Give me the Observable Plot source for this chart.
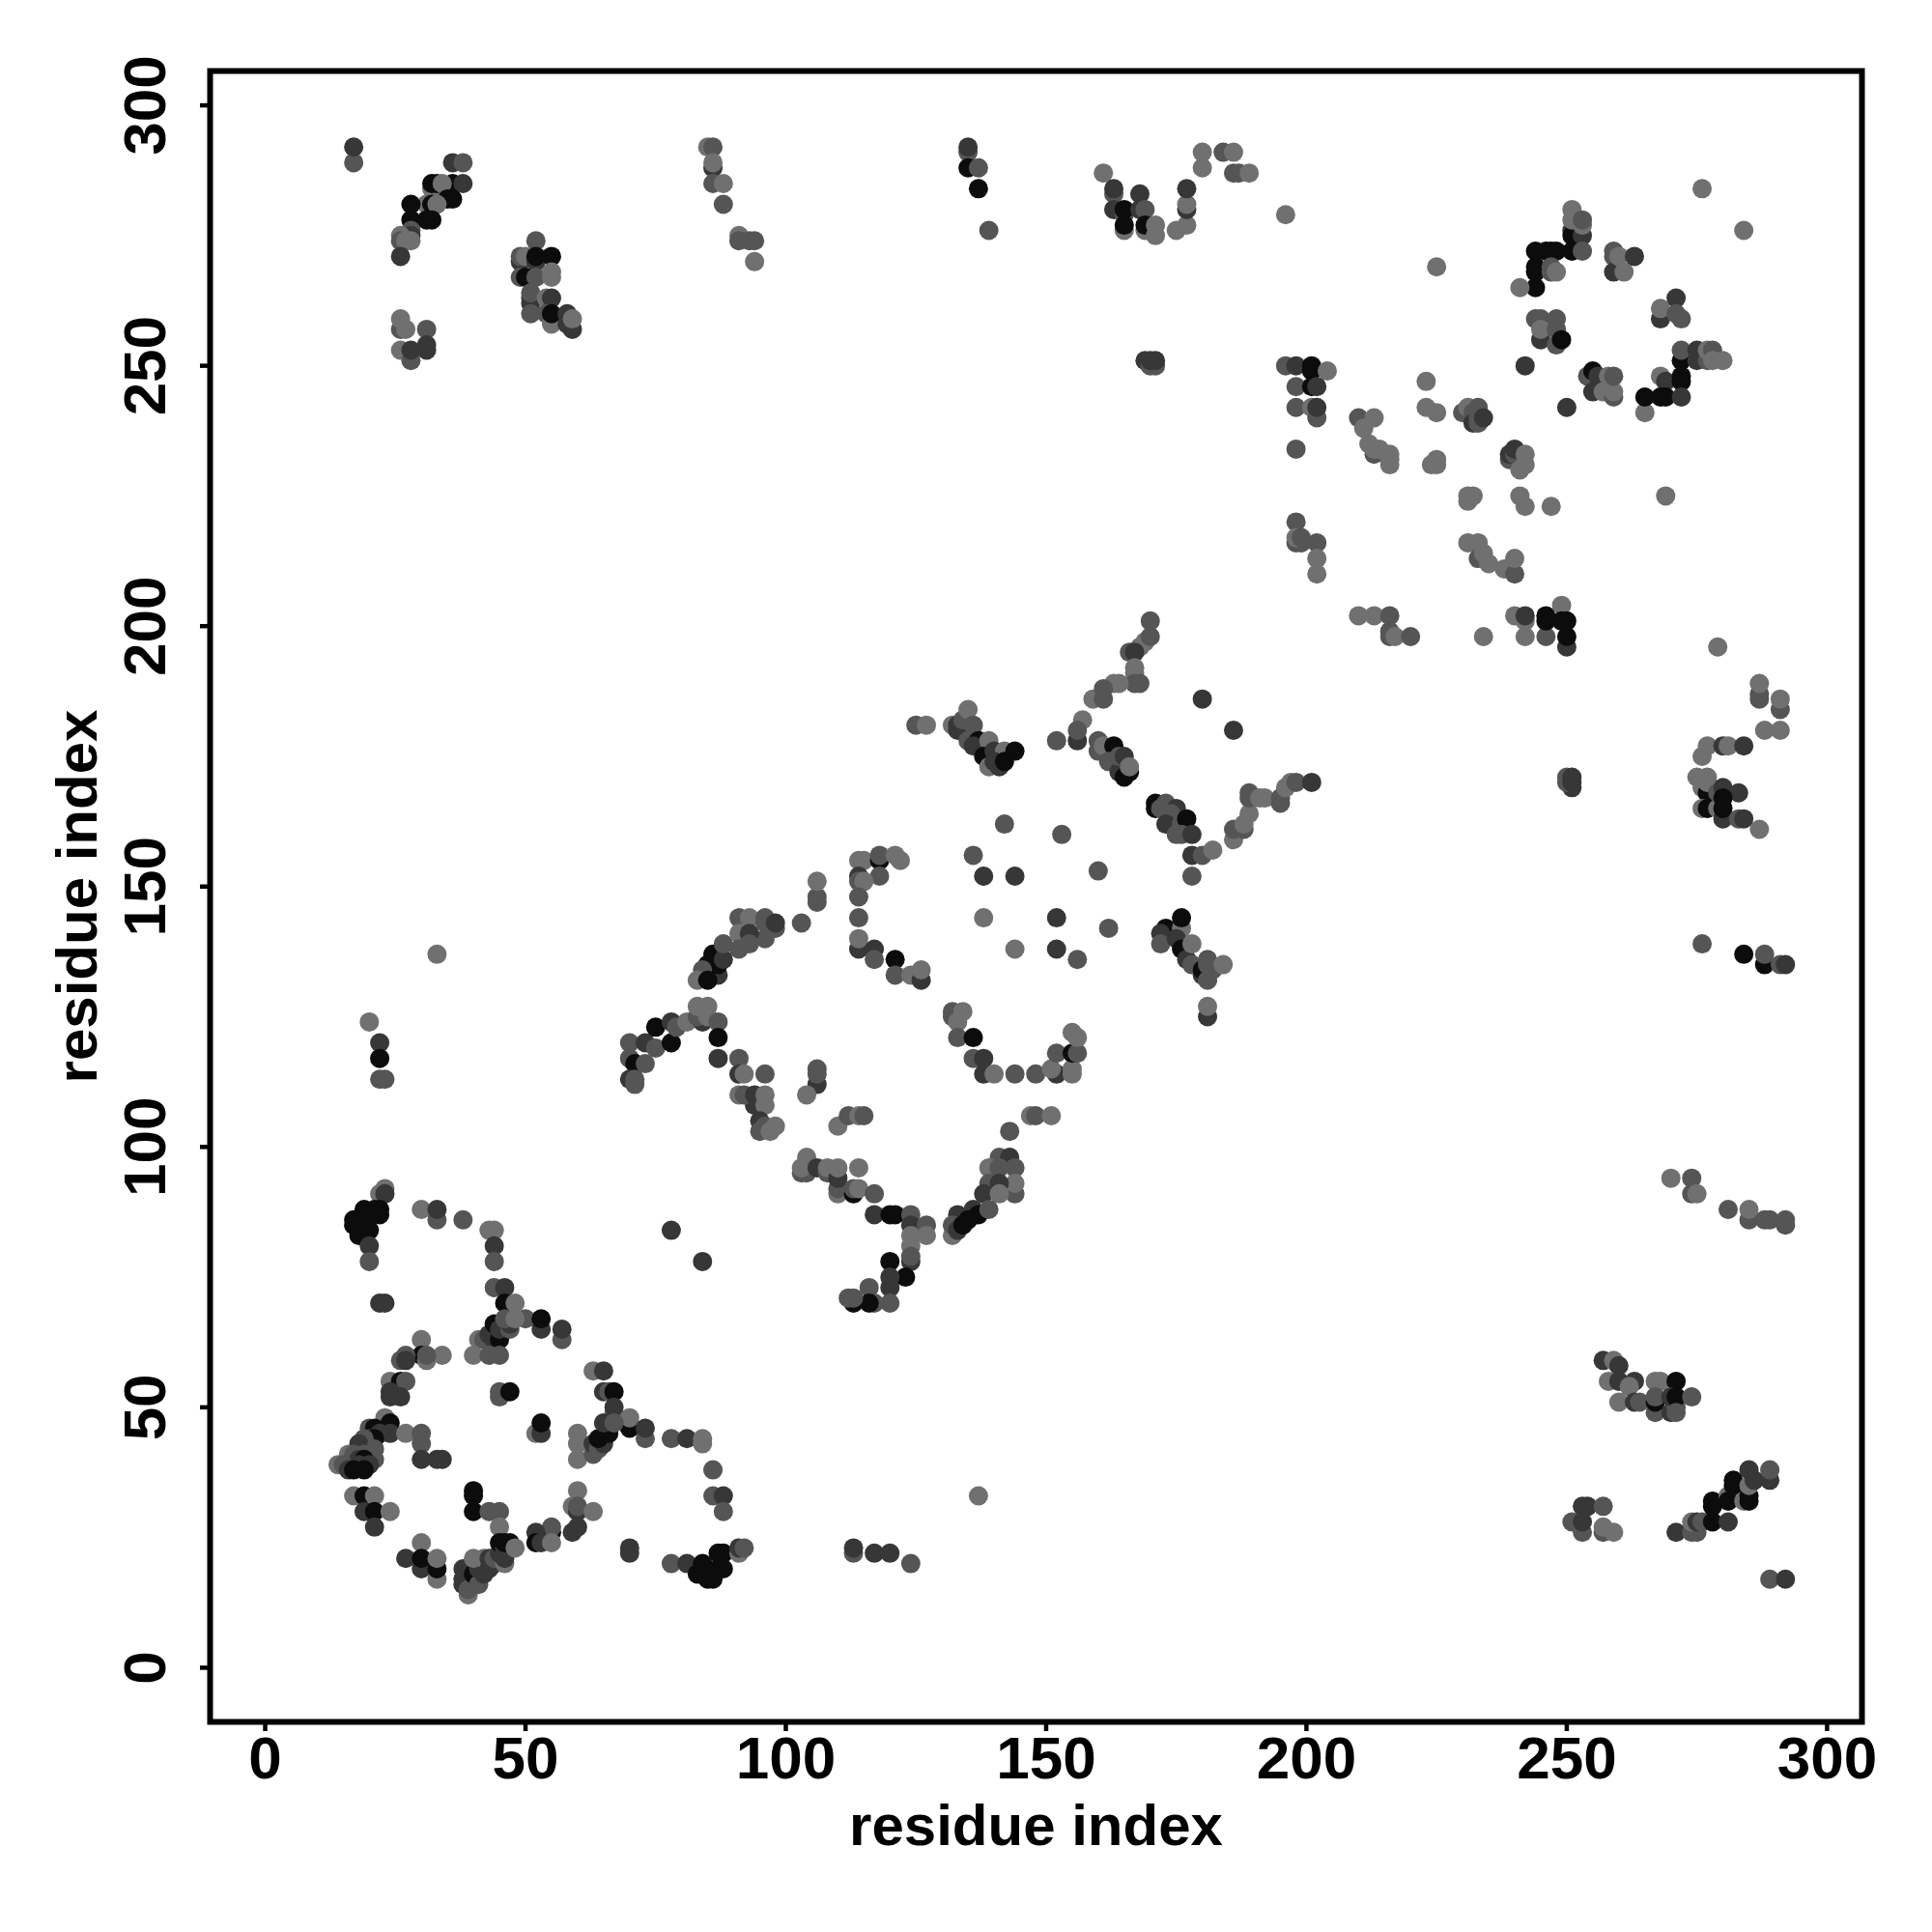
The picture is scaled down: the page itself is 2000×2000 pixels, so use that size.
<!DOCTYPE html>
<html><head><meta charset="utf-8">
<script src="https://cdn.jsdelivr.net/npm/d3@7"></script>
<script src="https://cdn.jsdelivr.net/npm/@observablehq/plot@0.6"></script>
<style>html,body{margin:0;padding:0;background:#fff}</style>
</head><body><div id="chart"></div>
<script>
// contact score levels read from the point shades
const L=0.08, M=0.3, D=0.55, K=0.9;
const tickValues=[0,50,100,150,200,250,300];
const axisTitle="residue index";

const contactsDomainA=[
[22,91,L],[23,92,L],[23,91,D],[19,88,K],[22,88,K],[22,87,K],[17,86,K],[17,85,K],[19,86,K],[19,84,K],[20,84,K],[18,83,K],[21,88,K],[20,87,K],[20,81,D],[20,78,M],
[30,88,L],[33,86,M],[33,88,D],[38,86,M],[43,84,L],[44,84,L],[44,81,D],[44,78,M],[44,73,M],[46,73,D],[46,70,K],[48,70,L],[50,67,M],[53,65,D],[53,67,K],[57,63,M],[57,65,D],
[41,63,L],[42,63,M],[43,64,D],[44,63,D],[45,63,K],[44,66,K],[45,65,D],[47,65,M],[47,66,D],[46,67,M],[48,67,L],
[40,60,L],[43,60,M],[45,60,M],[22,70,D],[23,70,D],[30,63,L],[34,60,L],[30,60,K],[31,59,L],[31,60,M],[26,59,M],[27,60,M],[27,59,D],
[24,55,L],[26,55,K],[27,55,M],[24,53,D],[24,52,D],[26,52,D],[45,52,M],[45,53,M],[47,53,K],[52,45,L],[53,45,D],[53,47,K],
[63,57,L],[65,57,D],[65,53,D],[66,53,M],[67,53,K],[67,49,L],[67,50,D],[70,46,K],[70,48,L],[73,44,M],[73,46,D],[78,44,M],[81,44,D],[84,43,L],[84,44,L],[86,38,M],[86,33,M],[88,33,D],[88,30,M],
[60,45,L],[60,43,L],[60,40,L],[63,41,M],[63,43,D],[64,42,M],[65,43,D],[64,44,K],[66,45,K],[65,47,D],[67,47,M],
[23,48,L],[24,47,K],[24,45,D],[27,45,L],[30,45,M],[30,43,M],[30,40,D],[33,40,D],[34,40,D],
[20,46,M],[21,46,K],[22,45,D],[20,44,D],[21,44,K],[19,44,M],[18,43,D],[21,42,M],[18,42,D],[21,40,M],[16,41,L],[17,41,M],[19,41,M],[18,40,D],[19,40,K],[14,39,L],[15,39,M],[18,39,D],[20,39,D],[16,38,D],[17,38,K],[19,38,K],
[17,33,L],[19,33,K],[21,33,L],[19,30,D],[21,30,K],[24,30,L],[21,27,D],
[40,34,K],[40,33,K],[40,30,K],[43,30,M],[45,30,M],[45,27,L],[60,34,L],[59,31,L],[60,30,D],[60,31,M],[63,30,L],[60,27,D],[59,26,D],
[55,26,K],[55,27,M],[52,26,D],[52,24,K],[53,24,D],[55,24,L],[70,22,D],[70,23,D],
[78,20,M],[81,20,D],[84,20,K],[87,22,K],[88,22,K],[87,19,K],[88,19,K],[83,18,K],[84,18,K],[86,18,K],[85,17,K],[86,17,K],[91,22,L],[91,23,D],[92,23,M],
[30,24,L],[27,21,D],[30,19,D],[30,21,K],[33,17,L],[33,19,K],[33,21,L],
[39,14,L],[38,19,D],[38,17,D],[38,16,D],[39,15,M],[40,18,K],[41,16,M],[41,19,D],[42,18,D],[40,21,L],[42,21,L],[43,19,D],[44,20,D],[43,21,D],[44,21,M],[46,20,L],[45,22,D],[46,21,D],[45,24,K],[46,23,D],[46,24,K],[47,24,K],[48,23,L]
];

const contactsDomainB=[
[106,147,M],[106,148,M],[106,151,L],[103,143,M],[91,144,M],[93,144,L],[96,143,M],[96,144,M],[97,142,M],[98,142,M],[98,143,D],[96,140,M],[91,141,L],[93,141,D],[93,139,M],[91,138,M],[87,133,D],[85,135,K],[86,137,K],[87,135,K],[88,136,D],[88,139,M],[84,134,M],[83,132,L],[85,132,K],
[114,155,L],[115,155,L],[118,155,K],[118,156,M],[121,156,L],[122,155,L],[118,152,M],[114,152,D],[114,151,M],[115,151,L],[114,148,M],[114,144,M],[114,138,D],[114,140,L],[117,138,D],[117,136,M],[121,136,K],[121,133,M],[124,133,L],[126,132,D],[126,134,L],
[132,125,M],[132,126,M],[134,126,L],[133,124,L],[133,121,M],[136,121,K],[136,117,M],[138,117,D],[138,114,D],[140,114,L],[144,114,M],[148,114,M],[152,114,D],[151,115,L],[155,114,L],[155,115,L],[152,118,M],[155,118,K],[156,118,M],[155,122,L],[156,121,L],
[70,120,M],[73,120,D],[75,119,M],[75,123,K],[78,120,K],[78,124,D],[79,123,M],[81,124,L],[84,124,D],[83,125,M],[85,125,L],[83,127,L],[85,127,L],[87,124,M],[87,121,K],[87,117,D],
[91,117,M],[70,117,M],[71,116,K],[73,116,M],[70,113,D],[71,113,M],[71,112,M],
[91,114,D],[92,114,L],[96,114,M],[91,110,L],[94,108,D],[92,110,M],[94,110,D],[96,110,L],[96,108,L],[95,105,D],[95,103,M],[96,104,M],[97,103,L],[98,104,L],
[106,112,D],[106,114,M],[106,115,M],[104,110,L],[110,104,L],[112,106,M],[114,106,L],[115,106,M],[147,106,L],[148,106,M],[151,106,L],[143,103,M],
[103,95,M],[104,95,M],[103,96,L],[104,98,L],[106,96,D],[108,95,M],[108,96,L],[110,91,L],[110,92,M],[110,94,D],[110,96,L],[114,96,L],[113,91,K],[113,92,M],[114,92,L],[117,91,M],
[117,87,D],[120,87,K],[121,87,K],[124,87,M],[124,85,D],[127,85,M],[127,83,L],[124,83,L],[124,81,L],[124,78,D],[124,79,M],[120,78,K],[123,75,K],[120,75,D],[120,73,D],[116,73,M],[120,70,M],[117,70,M],[116,70,K],[113,70,K],[112,71,M],[113,71,M],
[78,84,D],[84,78,D],
[141,98,M],[143,98,D],[139,96,L],[141,96,M],[144,96,M],[144,91,M],[144,93,L],[139,93,M],[141,93,D],[138,91,D],[141,91,L],[133,87,D],[136,88,D],[132,83,L],[132,85,M],[133,84,D],[134,85,K],[135,86,K],[137,87,K],[139,88,M]
];

const contactsDomainC=[
[170,201,M],[169,197,L],[168,196,L],[170,198,M],[166,195,M],[167,195,D],[167,191,L],[167,192,L],[167,189,M],[168,189,M],[163,189,L],[164,189,L],[159,186,L],[161,186,M],[161,188,M],[157,182,L],[156,178,D],[156,180,M],[152,178,M],
[180,186,D],[186,180,D],[125,181,M],[127,181,L],
[132,181,L],[133,181,D],[133,180,D],[134,182,M],[135,184,L],[136,181,M],[135,178,M],[137,178,K],[136,177,D],[139,178,L],[138,175,K],[140,176,D],[142,176,L],[139,173,L],[140,174,D],[141,173,D],[142,174,K],[144,176,K],
[160,176,M],[160,178,M],[161,177,L],[163,177,K],[162,174,M],[164,172,D],[165,171,K],[166,172,K],[164,175,M],[165,175,D],[166,173,L],
[171,166,K],[171,165,K],[172,165,M],[173,166,M],[175,165,D],[174,164,M],[173,162,D],[176,162,M],[177,163,K],[176,160,M],[175,160,M],[178,160,D],
[178,156,D],[180,156,M],[182,157,L],[178,152,M],[186,159,L],[186,161,M],[188,161,M],[188,162,L],[189,164,L],[189,167,M],[189,168,M],[191,167,L],[192,167,L],[195,166,M],[195,167,M],[196,169,L],[197,170,L],[198,170,M],[201,170,D],
[142,162,M],[153,160,M],[136,156,M],[138,152,D],[144,152,D],[160,153,M],[138,144,L],[152,144,D],[162,142,M],[144,138,L],[152,138,D],[156,136,M],
[173,142,K],[172,141,D],[172,139,M],[176,142,L],[176,144,K],[175,140,D],[176,138,K],[177,136,D],[178,139,L],[178,135,M],[180,133,D],[180,134,K],[181,132,M],[182,134,M],[181,135,M],[181,136,M],[184,135,L],[181,125,D],[181,127,L]
];

const contactsDomainD=[
[196,279,L],[276,284,L],[284,276,L],[225,269,L],
[251,276,D],[251,275,K],[253,275,D],[251,272,K],[253,272,M],[251,278,L],[251,280,L],[253,277,L],[253,278,M],
[244,272,K],[246,272,K],[247,272,K],[248,272,K],[244,269,K],[244,268,K],[247,268,M],[247,269,M],[248,268,L],[244,265,K],[241,265,L],
[259,271,M],[259,272,M],[259,268,D],[260,271,L],[261,268,L],[263,271,D],
[268,259,D],[268,261,L],[271,263,D],[271,260,M],[272,259,M],
[244,259,M],[245,259,M],[248,259,M],[245,255,D],[245,257,L],[248,254,M],[248,257,M],[249,255,K],
[242,250,D],[250,242,D],
[254,248,M],[255,249,K],[256,248,D],[255,245,D],[257,245,L],[258,248,L],[259,244,M],[259,245,L],[259,248,M],
[272,251,K],[272,253,M],[275,251,D],[275,253,D],[277,251,M],[277,253,L],[278,253,M],[278,251,L],[280,251,L],
[268,248,L],[269,247,D],[272,248,K],[272,247,K],[265,241,L],[265,244,K],[268,244,K],[269,244,K],[272,244,D],
[196,250,M],[198,250,D],[201,249,K],[201,250,K],[204,249,L],[198,246,M],[201,246,K],[202,246,D],[198,242,M],[201,242,L],[202,240,M],[202,242,D],[198,234,M],
[223,247,L],[223,242,L],[225,241,L],[210,240,M],[213,240,L],[211,238,L],[212,235,L],[213,233,M],[213,234,L],[214,234,L],[216,231,L],[216,232,L],[216,233,L],[224,231,L],[225,231,L],[225,232,L],
[230,241,M],[231,242,L],[233,242,M],[232,241,M],[232,239,D],[233,239,M],[233,240,M],[234,240,D],
[239,232,M],[239,233,D],[240,233,M],[240,234,D],[241,230,L],[242,231,L],[242,233,L],
[231,224,L],[231,225,L],[232,225,L],[241,225,L],[242,223,L],[247,223,L],[269,225,L],
[198,220,M],[198,216,M],[199,216,M],[198,217,L],[199,217,M],[202,216,M],[202,213,L],[202,210,L],
[231,216,L],[233,216,L],[233,213,M],[234,214,L],[235,212,L],[238,211,L],[240,210,M],[240,213,L],
[210,202,L],[213,202,L],[216,202,M],[216,198,M],[216,199,M],[217,198,L],[220,198,M],[234,198,L],
[240,202,L],[242,201,L],[242,202,D],[242,198,L],[246,198,M],[246,201,K],[246,202,K],[249,204,L],[249,201,K],[250,201,K],[250,196,D],[250,198,K],[279,196,L]
];

const contactsRight=[
[287,186,M],[287,187,M],[287,189,L],[291,184,M],[291,186,L],[288,180,L],[291,180,L],[276,175,L],[277,177,L],[280,177,D],[281,177,L],[284,177,D],
[275,171,L],[276,169,L],[277,168,K],[277,171,L],[277,170,L],[279,168,M],[280,169,D],[283,168,D],[276,165,L],[277,165,K],[279,165,L],[280,163,D],[280,165,K],[280,167,K],[283,163,M],[284,163,D],[287,161,L],
[251,169,D],[250,170,M],[250,171,M],[251,170,D],[251,171,D],
[276,139,M],[284,137,K],[288,135,K],[288,137,M],[291,135,M],[292,135,D],
[270,94,L],[274,94,M],[274,91,M],[275,91,L],[281,88,M],[285,86,M],[285,88,L],[288,86,M],[289,86,M],[292,85,M],[292,86,M],
[257,59,D],[259,59,L],[260,58,D],[258,55,L],[260,55,D],[263,55,D],[262,54,L],[260,51,L],[263,51,D],[264,51,M],[267,55,L],[268,55,L],[271,55,K],[267,49,M],[267,51,K],[267,52,M],[270,49,D],[271,50,M],[270,52,D],[271,52,K],[271,49,M],[274,52,M],
[253,31,D],[254,31,D],[257,31,M],[251,28,M],[253,26,M],[253,28,D],[257,26,M],[257,27,L],[259,26,L],
[271,26,D],[274,26,M],[275,26,M],[274,28,L],[275,28,D],[276,28,M],[278,28,K],[278,31,K],[278,32,K],[281,28,D],[281,33,L],[281,32,K],[282,35,K],[282,36,K],[284,32,L],[285,32,K],[285,33,K],[285,35,L],[285,38,D],[286,36,D],[289,36,D],[289,38,M],[289,17,M],[292,17,D]
];

const contactsTop=[
[17,289,M],[17,292,D],[36,289,D],[38,289,M],[36,285,K],[38,285,D],[32,284,L],[32,285,K],[33,285,K],[34,285,L],[35,282,K],[36,282,K],[31,281,L],[28,281,K],[32,281,K],[33,281,L],[28,278,K],[31,278,K],[32,278,K],[28,276,M],[28,275,D],[26,275,L],[26,274,M],[28,274,L],[27,274,L],[26,271,D],
[52,274,M],[49,270,D],[49,271,M],[50,271,L],[52,270,D],[52,271,K],[55,271,K],[49,267,M],[50,267,K],[52,267,M],[55,267,L],[55,268,L],[51,262,D],[51,263,D],[51,264,M],[51,260,M],[54,263,L],[55,263,D],[54,260,M],[55,258,L],[55,260,K],[58,258,D],[58,260,D],[59,257,D],[59,259,L],
[26,257,M],[26,259,L],[27,257,L],[31,257,M],[26,253,L],[28,251,M],[28,253,D],[31,253,D],[31,254,D],
[85,292,L],[86,292,M],[86,288,D],[86,289,L],[86,285,M],[88,285,L],[88,281,M],[91,275,L],[91,274,M],[93,274,M],[94,274,M],[94,270,L],
[135,291,M],[135,292,D],[135,288,K],[137,288,M],[137,284,K],[139,276,M],
[161,287,L],[163,283,M],[163,284,D],[163,280,D],[165,279,M],[165,280,K],[165,276,L],[165,277,K],[168,283,D],[168,280,D],[169,280,M],[169,276,L],[169,277,K],[171,275,L],[171,277,L],[175,276,L],[177,277,L],[177,280,D],[177,281,L],[177,284,D],
[180,288,L],[180,291,L],[184,291,M],[186,291,L],[186,287,M],[187,287,M],[189,287,L],
[169,251,D],[170,250,M],[171,250,M],[170,251,D],[171,251,D]
];

const contactsIsolated=[
[33,137,L],[137,33,L],[20,124,L],[22,120,D],[22,117,K],[22,113,M],[23,113,M],[113,22,M],[113,23,D],[117,22,D],[120,22,D],[124,20,M]
];

const contacts=[...contactsDomainA,...contactsDomainB,...contactsDomainC,...contactsDomainD,...contactsRight,...contactsTop,...contactsIsolated];

const font="'Liberation Sans', Arial, sans-serif";
const chart=Plot.plot({
  width:2000,height:2000,
  marginLeft:217,marginRight:73,marginTop:73,marginBottom:218,
  style:{fontFamily:font,background:"#fff",overflow:"visible"},
  x:{domain:[-10.58,306.7]},
  y:{domain:[-10.4,306.6]},
  color:{type:"linear",domain:[0,1],range:["#7a7a7a","#000000"]},
  marks:[
    Plot.dot(contacts,{x:d=>d[0],y:d=>d[1],fill:d=>d[2],r:10,stroke:"none"}),
    Plot.frame({stroke:"#000",strokeWidth:6}),
    Plot.axisX({ticks:tickValues,tickFormat:d3.format("d"),tickSize:10,strokeWidth:4.5,tickPadding:4,fontSize:62,fontWeight:"bold",label:null,fill:"#000"}),
    Plot.axisY({ticks:tickValues,tickFormat:d3.format("d"),tickSize:10,strokeWidth:4.5,tickPadding:37,tickRotate:-90,fontSize:62,fontWeight:"bold",label:null,fill:"#000",textAnchor:"middle"}),
    Plot.text([axisTitle],{frameAnchor:"bottom",dy:127,lineAnchor:"bottom",fontSize:60,fontWeight:"bold",fill:"#000"}),
    Plot.text([axisTitle],{frameAnchor:"left",dx:-118,rotate:-90,textAnchor:"middle",lineAnchor:"bottom",fontSize:60,fontWeight:"bold",fill:"#000"})
  ]
});
document.getElementById("chart").appendChild(chart);
</script></body></html>
